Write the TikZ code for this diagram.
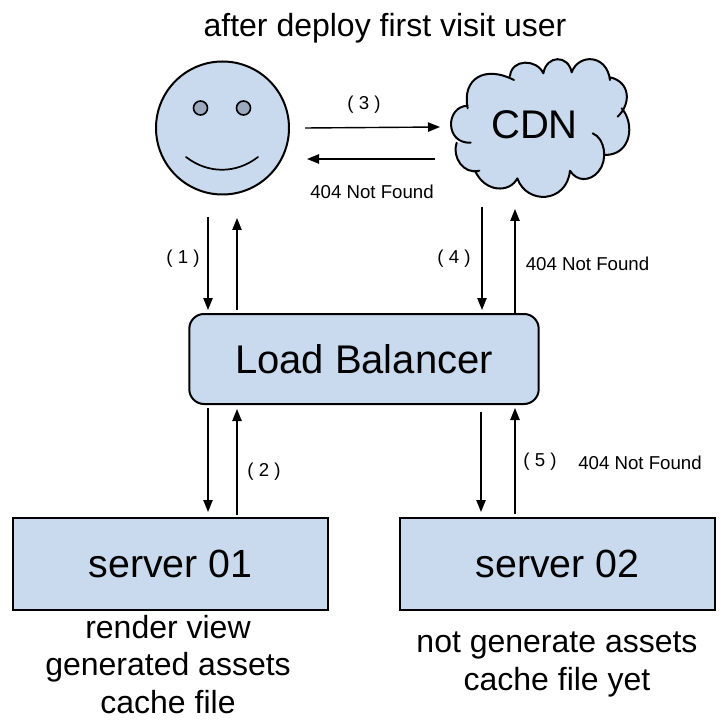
\documentclass[tikz,border=0pt]{standalone}
\usepackage{fontspec}
\setmainfont{Liberation Sans}
\usetikzlibrary{arrows.meta}
\definecolor{boxfill}{HTML}{C9DAEE}
\definecolor{eyefill}{HTML}{9AA9BD}
\tikzset{
  shapeline/.style={draw=black,line width=1.5pt,fill=boxfill},
  rectbox/.style={shapeline,minimum width=236pt,minimum height=68.5pt,inner sep=0pt,font=\fontsize{29.5}{29.5}\selectfont},
  lbbox/.style={shapeline,rounded corners=11pt,minimum width=262pt,minimum height=67.5pt,inner sep=0pt,font=\fontsize{30}{30}\selectfont},
  arrowline/.style={draw=black,line width=1.05pt,-{Stealth[length=9pt,width=7pt,inset=0pt]}},
  smalltext/.style={inner sep=0pt,font=\fontsize{14}{14}\selectfont},
  bigtext/.style={inner sep=0pt,align=center,font=\fontsize{24}{28}\selectfont},
  eyedot/.style={draw=black,line width=1.2pt,fill=eyefill,circle,minimum size=10.5pt,inner sep=0pt},
}
\begin{document}
\begin{tikzpicture}[x=0.75pt,y=-0.75pt]
\useasboundingbox (0,0) rectangle (724,720);
% user
\node[shapeline,circle,minimum size=99.75pt,inner sep=0pt] (user) at (222.5,128) {};
\node[eyedot] (eyeL) at (200.5,108) {};
\node[eyedot] (eyeR) at (243.5,108) {};
\draw[line width=1.3pt,line cap=round] (186,157) .. controls (208,174) and (236,174) .. (258,157);
% cloud (control points in zoomed coordinates: x/3+430, y/3+40)
\begin{scope}[shift={(430,40)},x=0.25pt,y=-0.25pt]
\fill[boxfill] (113,205) .. controls (95,115) and (165,75) .. (252,120)
  -- (240,108) .. controls (245,56) and (320,56) .. (340,100)
  .. controls (350,44) and (415,44) .. (425,97)
  .. controls (445,41) and (530,41) .. (540,112)
  .. controls (600,125) and (605,190) .. (575,205)
  .. controls (615,250) and (605,345) .. (525,345)
  -- (505,395) .. controls (480,425) and (440,425) .. (420,392)
  .. controls (410,490) and (290,495) .. (262,415)
  .. controls (240,459) and (165,459) .. (135,392)
  -- (148,392) .. controls (100,405) and (65,350) .. (80,308)
  -- (122,308) .. controls (45,312) and (45,200) .. (113,197) -- cycle;
\draw[line width=1.5pt,line cap=round]
  (113,205) .. controls (95,115) and (165,75) .. (252,120)
  (240,108) .. controls (245,56) and (320,56) .. (340,100)
  (340,100) .. controls (350,44) and (415,44) .. (425,97)
  (425,97) .. controls (445,41) and (530,41) .. (540,120)
  (540,112) .. controls (600,125) and (605,190) .. (563,230)
  (575,205) .. controls (615,250) and (605,345) .. (525,345)
  (488,280) .. controls (525,295) and (535,360) .. (505,395) .. controls (480,425) and (440,425) .. (420,392)
  (420,392) .. controls (410,490) and (290,495) .. (262,415)
  (262,415) .. controls (240,459) and (165,459) .. (135,392)
  (148,392) .. controls (100,405) and (65,350) .. (80,308)
  (122,308) .. controls (45,312) and (45,200) .. (113,197);
\end{scope}
\node[inner sep=0pt,font=\fontsize{30}{30}\selectfont] (cdn) at (534.5,125) {CDN};
% boxes
\node[lbbox] (lb) at (364,359) {Load Balancer};
\node[rectbox] (s1) at (170.5,564) {server 01\hspace{3pt}};
\node[rectbox] (s2) at (557.5,564) {server 02};
% texts
\node[bigtext] (title) at (385,28) {after deploy first visit user};
\node[bigtext,anchor=north] (note1) at (168,615) {render view\\generated assets\\cache file};
\node[bigtext,anchor=north] (note2) at (557,632) {not generate assets\\cache file yet};
\node[smalltext] (l3) at (364,105) {( 3 )};
\node[smalltext] (n1) at (372,192) {404 Not Found};
\node[smalltext] (l1) at (183,259) {( 1 )};
\node[smalltext] (l4) at (454,259) {( 4 )};
\node[smalltext] (n2) at (587.5,264) {404 Not Found};
\node[smalltext] (l2) at (264,472) {( 2 )};
\node[smalltext] (l5) at (540,462) {( 5 )};
\node[smalltext] (n3) at (640,463) {404 Not Found};
% arrow ends
\coordinate (a3s) at (305,128); \coordinate (a3e) at (440,127);
\coordinate (r3s) at (435,159); \coordinate (r3e) at (307,159);
\coordinate (a1s) at (208,217); \coordinate (a1e) at (208,310);
\coordinate (r1s) at (237,310); \coordinate (r1e) at (237,218);
\coordinate (a4s) at (482,207); \coordinate (a4e) at (482,310);
\coordinate (r4s) at (515,313); \coordinate (r4e) at (515,209);
\coordinate (a2s) at (208,408); \coordinate (a2e) at (208,512);
\coordinate (r2s) at (237,515); \coordinate (r2e) at (237,409);
\coordinate (a5s) at (481,412); \coordinate (a5e) at (481,512);
\coordinate (r5s) at (515,514); \coordinate (r5e) at (515,408);
\foreach \p in {a3,r3,a1,r1,a4,r4,a2,r2,a5,r5}
  \draw[arrowline] (\p s) -- (\p e);
\end{tikzpicture}
\end{document}
